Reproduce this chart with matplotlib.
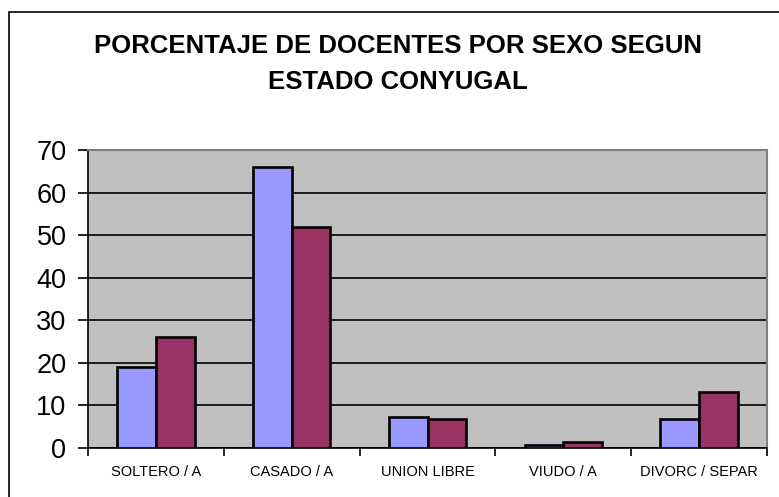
import matplotlib
matplotlib.use("Agg")
import matplotlib.pyplot as plt
import matplotlib.patches as patches
import numpy as np

categories = ["SOLTERO / A", "CASADO / A", "UNION LIBRE", "VIUDO / A", "DIVORC / SEPAR"]
serie_1 = [19, 66, 7.2, 0.8, 6.8]
serie_2 = [26, 52, 6.8, 1.5, 13.2]
yticks = [0, 10, 20, 30, 40, 50, 60, 70]
title = "PORCENTAJE DE DOCENTES POR SEXO SEGUN\nESTADO CONYUGAL"

plt.rcParams['font.family'] = ['Liberation Sans', 'DejaVu Sans']

fig = plt.figure(figsize=(7.79, 4.97), dpi=100)
ax = fig.add_axes([88/779, 1-448/497, (767-88)/779, (448-150)/497])
ax.set_facecolor("#C0C0C0")

x = np.arange(len(categories))
w = 0.2857
ax.bar(x - w/2, serie_1, w, color="#9999FF", edgecolor="black", linewidth=1.9, zorder=3)
ax.bar(x + w/2, serie_2, w, color="#993366", edgecolor="black", linewidth=1.9, zorder=3)

ax.set_xlim(-0.5, len(categories) - 0.5)
ax.set_ylim(0, 70)
ax.set_yticks(yticks)
ax.set_yticklabels([str(v) for v in yticks], fontsize=19.5)
ax.yaxis.grid(True, color="black", linewidth=1.2, zorder=1)
ax.set_axisbelow(True)

ax.set_xticks(np.arange(-0.5, len(categories) + 0.5, 1))
ax.set_xticklabels([])
ax.set_xticks(x, minor=True)
ax.set_xticklabels(categories, minor=True, fontsize=10.5)
ax.tick_params(axis='x', which='minor', length=0, pad=12)
ax.tick_params(axis='x', which='major', length=6, width=1.2, color='black')
ax.tick_params(axis='y', length=7.5, width=1.2, color='black', pad=8)

for s in ["left", "bottom"]:
    ax.spines[s].set_color("black")
    ax.spines[s].set_linewidth(1.2)
for s in ["top", "right"]:
    ax.spines[s].set_color("#808080")
    ax.spines[s].set_linewidth(1.5)

fig.text(398/779, 1-64/497, title, ha="center", va="center", fontsize=18.5,
         fontweight="bold", linespacing=1.6)

border = patches.Rectangle((9/779, -0.05), 1.2, 1-12/497 + 0.05, transform=fig.transFigure,
                           fill=False, edgecolor="black", linewidth=1.2, clip_on=False)
fig.patches.append(border)

fig.savefig("out.png", dpi=100)
